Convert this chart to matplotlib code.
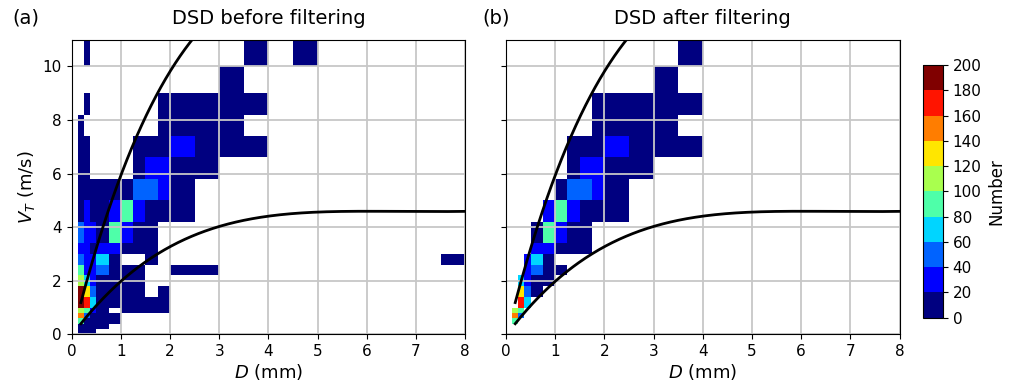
import numpy as np
import matplotlib
matplotlib.use('Agg')
import matplotlib.pyplot as plt
from matplotlib.colors import BoundaryNorm

# disdrometer size / velocity classes (mm, m/s)
d_edges = [0.125, 0.25, 0.375, 0.5, 0.75, 1.0, 1.25, 1.5, 1.75, 2.0, 2.5, 3.0,
           3.5, 4.0, 4.5, 5.0, 5.5, 6.0, 6.5, 7.0, 7.5, 8.0]
v_edges = [0, 0.2, 0.4, 0.6, 0.8, 1.0, 1.4, 1.8, 2.2, 2.6, 3.0, 3.4, 4.2, 5.0,
           5.8, 6.6, 7.4, 8.2, 9.0, 10.0, 11.0]

# drop counts, one list per velocity class (top row = fastest), one entry per size class
counts_top_down = [
    [0, 2, 0, 0, 0, 0, 0, 0, 0, 0, 0, 0, 1, 0, 1, 0, 0, 0, 0, 0, 0],
    [0, 0, 0, 0, 0, 0, 0, 0, 0, 0, 0, 2, 0, 0, 0, 0, 0, 0, 0, 0, 0],
    [0, 1, 0, 0, 0, 0, 0, 0, 3, 6, 4, 2, 1, 0, 0, 0, 0, 0, 0, 0, 0],
    [2, 0, 0, 0, 0, 0, 0, 0, 5, 9, 6, 3, 0, 0, 0, 0, 0, 0, 0, 0, 0],
    [3, 2, 0, 0, 0, 0, 4, 8, 14, 24, 9, 3, 1, 0, 0, 0, 0, 0, 0, 0, 0],
    [4, 3, 0, 0, 0, 0, 12, 27, 22, 15, 5, 0, 0, 0, 0, 0, 0, 0, 0, 0, 0],
    [6, 8, 5, 9, 13, 18, 46, 43, 25, 11, 0, 0, 0, 0, 0, 0, 0, 0, 0, 0, 0],
    [9, 22, 14, 16, 35, 87, 33, 19, 12, 6, 0, 0, 0, 0, 0, 0, 0, 0, 0, 0, 0],
    [48, 28, 25, 19, 84, 31, 16, 8, 0, 0, 0, 0, 0, 0, 0, 0, 0, 0, 0, 0, 0],
    [36, 31, 18, 27, 25, 11, 7, 3, 0, 0, 0, 0, 0, 0, 0, 0, 0, 0, 0, 0, 0],
    [52, 33, 27, 68, 14, 0, 0, 2, 0, 0, 0, 0, 0, 0, 0, 0, 0, 0, 0, 0, 1],
    [85, 38, 24, 45, 12, 3, 4, 0, 0, 1, 1, 0, 0, 0, 0, 0, 0, 0, 0, 0, 0],
    [105, 64, 29, 17, 10, 6, 3, 0, 0, 0, 0, 0, 0, 0, 0, 0, 0, 0, 0, 0, 0],
    [195, 128, 46, 15, 9, 5, 2, 0, 1, 0, 0, 0, 0, 0, 0, 0, 0, 0, 0, 0, 0],
    [188, 172, 66, 18, 8, 4, 2, 1, 1, 0, 0, 0, 0, 0, 0, 0, 0, 0, 0, 0, 0],
    [112, 85, 38, 12, 0, 3, 2, 1, 1, 0, 0, 0, 0, 0, 0, 0, 0, 0, 0, 0, 0],
    [146, 48, 14, 6, 3, 0, 0, 0, 0, 0, 0, 0, 0, 0, 0, 0, 0, 0, 0, 0, 0],
    [92, 18, 9, 4, 2, 0, 0, 0, 0, 0, 0, 0, 0, 0, 0, 0, 0, 0, 0, 0, 0],
    [17, 8, 5, 2, 0, 0, 0, 0, 0, 0, 0, 0, 0, 0, 0, 0, 0, 0, 0, 0, 0],
    [6, 3, 2, 0, 0, 0, 0, 0, 0, 0, 0, 0, 0, 0, 0, 0, 0, 0, 0, 0, 0],
]

# size classes that survive the filter in each velocity class (first, last), bottom row first
keep_cols = [None, None, (0, 0), (0, 1), (0, 1), (1, 2), (1, 3), (1, 4), (2, 5), (2, 6),
             (3, 8), (3, 9), (4, 13), (5, 14), (5, 14), (6, 20), (6, 20), (8, 20),
             (9, 20), (9, 13)]

# Brandes et al. (2002) terminal velocity polynomial, +/-50 % bounds
vt_coef = [-0.1021, 4.932, -0.9551, 0.07934, -0.002362]
d_curve_min = 0.1875

before = np.array(counts_top_down[::-1], dtype=float)
after = np.zeros_like(before)
for i, rng in enumerate(keep_cols):
    if rng is not None:
        after[i, rng[0]:rng[1] + 1] = before[i, rng[0]:rng[1] + 1]

dd = np.linspace(d_curve_min, 8, 400)
vt = sum(c * dd ** k for k, c in enumerate(vt_coef))

cmap = plt.get_cmap('jet', 10)
norm = BoundaryNorm(np.arange(0, 201, 20), cmap.N)

fig = plt.figure(figsize=(10.12, 3.89), dpi=100)
ax1 = fig.add_axes([0.0708, 0.1406, 0.3889, 0.7578])
ax2 = fig.add_axes([0.5, 0.1406, 0.3889, 0.7578])
cax = fig.add_axes([0.9124, 0.1833, 0.0192, 0.6496])

for ax, data, title in [(ax1, before, 'DSD before filtering'),
                        (ax2, after, 'DSD after filtering')]:
    m = ax.pcolormesh(d_edges, v_edges, np.ma.masked_equal(data, 0),
                      cmap=cmap, norm=norm)
    ax.plot(dd, 1.5 * vt, 'k', lw=2)
    ax.plot(dd, 0.5 * vt, 'k', lw=2)
    ax.set_xlim(0, 8)
    ax.set_ylim(0, 11)
    ax.set_xticks(range(0, 9))
    ax.set_yticks(range(0, 11, 2))
    ax.grid(True, color='0.78', lw=1.3)
    ax.tick_params(labelsize=11)
    ax.set_title(title, fontsize=14, pad=11)
    ax.set_xlabel('$D$ (mm)', fontsize=13, labelpad=2)

ax1.set_ylabel('$V_T$ (m/s)', fontsize=13)
ax2.set_yticklabels([])

fig.text(0.012, 0.953, '(a)', fontsize=14, va='center')
fig.text(0.477, 0.953, '(b)', fontsize=14, va='center')

cb = fig.colorbar(m, cax=cax, ticks=np.arange(0, 201, 20))
cb.ax.tick_params(labelsize=11)
cb.set_label('Number', fontsize=12)

fig.savefig('out.png', dpi=100)
